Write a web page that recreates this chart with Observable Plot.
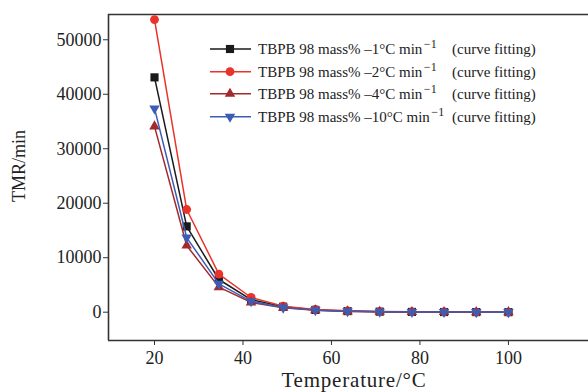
<!DOCTYPE html>
<html><head><meta charset="utf-8">
<script src="https://cdn.jsdelivr.net/npm/d3@7"></script>
<script src="https://cdn.jsdelivr.net/npm/@observablehq/plot@0.6"></script>
<style>body{margin:0;background:#fff}#chart{width:588px;height:392px}</style>
</head><body><div id="chart"></div>
<script>
// Temperature (°C)
const temperatures = [20, 27.27, 34.55, 41.82, 49.09, 56.36, 63.64, 70.91, 78.18, 85.45, 92.73, 100];
// TMR (min) per heating rate
const tmr1 = [43100, 15750, 6000, 2300, 1000, 420, 200, 100, 50, 30, 20, 10];
const tmr2 = [53700, 18850, 7000, 2700, 1100, 500, 250, 120, 60, 40, 20, 10];
const tmr4 = [34100, 12250, 4600, 1800, 800, 350, 150, 80, 40, 20, 10, 5];
const tmr10 = [37400, 13700, 5200, 2000, 850, 380, 170, 90, 45, 25, 15, 8];
const rateLabels = ["–1°C", "–2°C", "–4°C", "–10°C"];
const seriesColors = ["#1a1a1a", "#e8342b", "#a22a2c", "#3c5db5"];
const xTicks = [20, 40, 60, 80, 100];
const yTicks = [0, 10000, 20000, 30000, 40000, 50000];
const xDomain = [9.6, 118.1];
const yDomain = [-5195, 54640];

const triangleDown = {
  draw(context, size) {
    const y = Math.sqrt(size / (Math.sqrt(3) * 3));
    context.moveTo(0, y * 2);
    context.lineTo(-Math.sqrt(3) * y, -y);
    context.lineTo(Math.sqrt(3) * y, -y);
    context.closePath();
  }
};
const symbols = ["square", "circle", "triangle", triangleDown];
const radii = [4.6, 4.4, 3.9, 3.9];
const allSeries = [tmr1, tmr2, tmr4, tmr10];

const seriesData = allSeries.map((vals, k) =>
  vals.map((v, i) => ({t: temperatures[i], v, s: rateLabels[k]})));

const marks = [];
seriesData.forEach((rows, k) => {
  marks.push(Plot.line(rows, {x: "t", y: "v", stroke: seriesColors[k], strokeWidth: 1.5}));
  marks.push(Plot.dot(rows, {x: "t", y: "v", fill: seriesColors[k], stroke: "none", r: radii[k], symbol: symbols[k]}));
});

const plot = Plot.plot({
  width: 588,
  height: 392,
  marginLeft: 108,
  marginRight: 0,
  marginTop: 14,
  marginBottom: 52,
  style: {fontFamily: "'Liberation Serif', 'Times New Roman', serif", color: "#222", background: "#fff", overflow: "visible"},
  x: {domain: xDomain},
  y: {domain: yDomain},
  marks: [
    Plot.axisX({ticks: xTicks, tickSize: 5, tickPadding: 6, fontSize: 18, label: null, stroke: "#333"}),
    Plot.axisY({ticks: yTicks, tickSize: 5, tickPadding: 2, fontSize: 18, label: null, tickFormat: d => String(d), stroke: "#333"}),
    Plot.ruleY([yDomain[1]], {stroke: "#333", strokeWidth: 1.6}),
    Plot.ruleY([yDomain[0]], {stroke: "#333", strokeWidth: 1.6}),
    Plot.ruleX([xDomain[0]], {stroke: "#333", strokeWidth: 1.6}),
    ...marks
  ]
});
document.getElementById("chart").appendChild(plot);

const svg = d3.select(plot);
const font = "'Liberation Serif', 'Times New Roman', serif";
svg.append("text")
  .attr("transform", "translate(25,166) rotate(-90)")
  .attr("text-anchor", "middle").attr("font-size", 18).attr("font-family", font).attr("fill", "#222")
  .text("TMR/min");
svg.append("text")
  .attr("x", 354).attr("y", 387)
  .attr("text-anchor", "middle").attr("font-size", 21).attr("letter-spacing", 0.8)
  .attr("font-family", font).attr("fill", "#222")
  .text("Temperature/°C");

// legend
const legendBaselines = [54, 76.7, 98.8, 121.7];
const lg = svg.append("g").attr("font-family", font).attr("fill", "#222").attr("text-anchor", "start");
rateLabels.forEach((lab, k) => {
  const by = legendBaselines[k];
  const ly = by - 5;
  lg.append("line").attr("x1", 210).attr("x2", 251).attr("y1", ly).attr("y2", ly)
    .attr("stroke", seriesColors[k]).attr("stroke-width", 1.6);
  const size = radii[k] * radii[k] * Math.PI;
  const sym = typeof symbols[k] === "string"
    ? {square: d3.symbolSquare, circle: d3.symbolCircle, triangle: d3.symbolTriangle}[symbols[k]]
    : symbols[k];
  lg.append("path").attr("d", d3.symbol(sym, size)()).attr("transform", `translate(230,${ly})`)
    .attr("fill", seriesColors[k]);
  const t = lg.append("text").attr("x", 258).attr("y", by).attr("font-size", 15).attr("text-anchor", "start");
  t.append("tspan").text(`TBPB 98 mass% ${lab} min`);
  t.append("tspan").attr("dx", 1.5).attr("dy", -6).attr("font-size", 12).text("−1");
  lg.append("text").attr("x", 452).attr("y", by).attr("font-size", 15).attr("text-anchor", "start").text("(curve fitting)");
});
</script></body></html>
